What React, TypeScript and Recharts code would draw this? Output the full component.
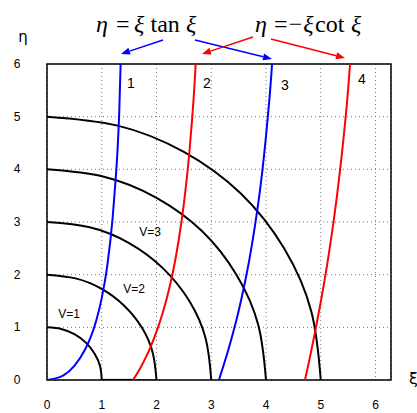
import React from 'react';
import { LineChart, Line, XAxis, YAxis, CartesianGrid, ReferenceArea } from 'recharts';

// ---- data ----
const xTicks = [0, 1, 2, 3, 4, 5, 6];
const yTicks = [0, 1, 2, 3, 4, 5, 6];
const XMAX = 6.283;
const YMAX = 6;

// eta = xi tan xi (blue), branches 1 and 3
const branch1Xi = [0, 0.3, 0.5, 0.7, 0.8, 0.9, 1.0, 1.1, 1.2, 1.25, 1.29, 1.32, 1.345];
const branch1Eta = [0, 0.09, 0.27, 0.59, 0.82, 1.13, 1.56, 2.16, 3.09, 3.76, 4.4, 5.1, 6];
const branch3Xi = [3.14, 3.3, 3.4, 3.5, 3.6, 3.7, 3.8, 3.9, 4.0, 4.05, 4.1, 4.11];
const branch3Eta = [0, 0.53, 0.9, 1.31, 1.78, 2.31, 2.94, 3.68, 4.63, 5.19, 5.84, 6];

// eta = -xi cot xi (red), branches 2 and 4
const branch2Xi = [1.57, 1.7, 1.8, 1.9, 2.0, 2.1, 2.2, 2.3, 2.4, 2.5, 2.6, 2.65, 2.7, 2.715];
const branch2Eta = [0, 0.22, 0.42, 0.65, 0.92, 1.23, 1.6, 2.05, 2.62, 3.35, 4.32, 4.95, 5.71, 6];
const branch4Xi = [4.712, 4.8, 4.9, 5.0, 5.1, 5.2, 5.3, 5.4, 5.5, 5.535];
const branch4Eta = [0, 0.42, 0.93, 1.48, 2.08, 2.76, 3.53, 4.43, 5.52, 6];

// quarter circles xi^2 + eta^2 = V^2
const circle1Xi = [0, 0.26, 0.5, 0.71, 0.87, 0.97, 1];
const circle1Eta = [1, 0.97, 0.87, 0.71, 0.5, 0.26, 0];
const circle2Xi = [0, 0.52, 1, 1.41, 1.73, 1.93, 2];
const circle2Eta = [2, 1.93, 1.73, 1.41, 1, 0.52, 0];
const circle3Xi = [0, 0.78, 1.5, 2.12, 2.6, 2.9, 3];
const circle3Eta = [3, 2.9, 2.6, 2.12, 1.5, 0.78, 0];
const circle4Xi = [0, 1.04, 2, 2.83, 3.46, 3.86, 4];
const circle4Eta = [4, 3.86, 3.46, 2.83, 2, 1.04, 0];
const circle5Xi = [0, 1.29, 2.5, 3.54, 4.33, 4.83, 5];
const circle5Eta = [5, 4.83, 4.33, 3.54, 2.5, 1.29, 0];

// segments lying on eta = 0
const blackBaseXi = [1, 1.57];
const blueBaseXi = [1.57, 2.0];
const blueEdgeXi = [6.25, 6.283];
const baseEta = [0, 0];

const vLabels = ['V=1', 'V=2', 'V=3'];
const branchLabels = ['1', '2', '3', '4'];

const toData = (xs: number[], ys: number[]) => xs.map((x, i) => ({ x, y: ys[i] }));

const BLUE = '#0000ff';
const RED = '#ff0000';
const SANS = '"Liberation Sans", Arial, sans-serif';
const SERIF = '"Liberation Serif", "Times New Roman", serif';

const circles = [
  toData(circle1Xi, circle1Eta),
  toData(circle2Xi, circle2Eta),
  toData(circle3Xi, circle3Eta),
  toData(circle4Xi, circle4Eta),
  toData(circle5Xi, circle5Eta),
];

const curves = [
  { data: toData(branch1Xi, branch1Eta), color: BLUE },
  { data: toData(branch2Xi, branch2Eta), color: RED },
  { data: toData(branch3Xi, branch3Eta), color: BLUE },
  { data: toData(branch4Xi, branch4Eta), color: RED },
];

const XTick = (props: any) => (
  <text x={props.x} y={props.y + 29} textAnchor="middle" fontFamily={SANS} fontSize={12} fill="#000">
    {props.payload.value}
  </text>
);

const YTick = (props: any) => (
  <text x={17} y={props.y + 4} textAnchor="middle" fontFamily={SANS} fontSize={12} fill="#000">
    {props.payload.value}
  </text>
);

function Arrow({ x1, y1, x2, y2, color }: { x1: number; y1: number; x2: number; y2: number; color: string }) {
  const a = Math.atan2(y2 - y1, x2 - x1);
  const L = 9;
  const W = 3.5;
  const bx = x2 - L * Math.cos(a);
  const by = y2 - L * Math.sin(a);
  const px = -Math.sin(a) * W;
  const py = Math.cos(a) * W;
  return (
    <g>
      <line x1={x1} y1={y1} x2={bx} y2={by} stroke={color} strokeWidth={1.5} />
      <polygon points={`${x2},${y2} ${bx + px},${by + py} ${bx - px},${by - py}`} fill={color} />
    </g>
  );
}

export default function App() {
  return (
    <div style={{ position: 'absolute', left: 0, top: 0, width: 417, height: 413, background: '#fff' }}>
      <LineChart width={417} height={413} margin={{ top: 64, right: 26, bottom: 0, left: 0 }}>
        <CartesianGrid stroke="#777" strokeDasharray="1 3" strokeWidth={1} />
        <XAxis
          type="number"
          dataKey="x"
          domain={[0, XMAX]}
          ticks={xTicks}
          allowDataOverflow
          height={33}
          tickLine={false}
          tickSize={0}
          tickMargin={0}
          axisLine={false}
          tick={XTick}
        />
        <YAxis
          type="number"
          dataKey="y"
          domain={[0, YMAX]}
          ticks={yTicks}
          allowDataOverflow
          width={47}
          tickLine={false}
          tickSize={0}
          tickMargin={0}
          axisLine={false}
          tick={YTick}
        />
        <ReferenceArea x1={0} x2={XMAX} y1={0} y2={YMAX} fill="none" stroke="#000" strokeWidth={1.5} ifOverflow="visible" />
        {circles.map((d, i) => (
          <Line
            key={'c' + i}
            data={d}
            dataKey="y"
            type="natural"
            stroke="#000"
            strokeWidth={2}
            dot={false}
            isAnimationActive={false}
          />
        ))}
        <Line data={toData(blackBaseXi, baseEta)} dataKey="y" type="linear" stroke="#000" strokeWidth={2.2} dot={false} isAnimationActive={false} />
        <Line data={toData(blueBaseXi, baseEta)} dataKey="y" type="linear" stroke={BLUE} strokeWidth={2} dot={false} isAnimationActive={false} />
        <Line data={toData(blueEdgeXi, baseEta)} dataKey="y" type="linear" stroke={BLUE} strokeWidth={2} dot={false} isAnimationActive={false} />
        {curves.map((c, i) => (
          <Line
            key={'b' + i}
            data={c.data}
            dataKey="y"
            type="monotone"
            stroke={c.color}
            strokeWidth={2}
            dot={false}
            isAnimationActive={false}
          />
        ))}
      </LineChart>
      <svg width={417} height={413} style={{ position: 'absolute', left: 0, top: 0, pointerEvents: 'none' }}>
        {/* formulas */}
        <text fontFamily={SERIF} fontSize={24} fill="#000" y={32}>
          <tspan x={96} fontStyle="italic">η</tspan>
          <tspan x={116}>=</tspan>
          <tspan x={134} fontStyle="italic">ξ</tspan>
          <tspan x={150.5}>tan</tspan>
          <tspan x={186} fontStyle="italic">ξ</tspan>
        </text>
        <text fontFamily={SERIF} fontSize={24} fill="#000" y={32}>
          <tspan x={255} fontStyle="italic">η</tspan>
          <tspan x={274}>=</tspan>
          <tspan x={287} fontStyle="italic">−ξ</tspan>
          <tspan x={315}>cot</tspan>
          <tspan x={351} fontStyle="italic">ξ</tspan>
        </text>
        <Arrow x1={163} y1={40} x2={121} y2={54} color={BLUE} />
        <Arrow x1={195} y1={40} x2={272} y2={59} color={BLUE} />
        <Arrow x1={253} y1={37} x2={202} y2={54} color={RED} />
        <Arrow x1={271} y1={39} x2={345} y2={58} color={RED} />
        {/* axis names */}
        <text x={23} y={42} textAnchor="middle" fontFamily='"DejaVu Sans", sans-serif' fontSize={15} fill="#000">η</text>
        <text x={409} y={384} fontFamily='"DejaVu Sans", sans-serif' fontSize={16} fill="#000">ξ</text>
        {/* branch numbers */}
        <g fontFamily={SANS} fontSize={14} fill="#000" textAnchor="middle">
          <text x={131} y={88}>{branchLabels[0]}</text>
          <text x={207} y={88}>{branchLabels[1]}</text>
          <text x={285} y={90}>{branchLabels[2]}</text>
          <text x={362} y={84}>{branchLabels[3]}</text>
        </g>
        {/* V labels */}
        <g fontFamily={SANS} fontSize={12} fill="#000" textAnchor="middle">
          <text x={69} y={318}>{vLabels[0]}</text>
          <text x={134} y={293}>{vLabels[1]}</text>
          <text x={150} y={236}>{vLabels[2]}</text>
        </g>
      </svg>
    </div>
  );
}
